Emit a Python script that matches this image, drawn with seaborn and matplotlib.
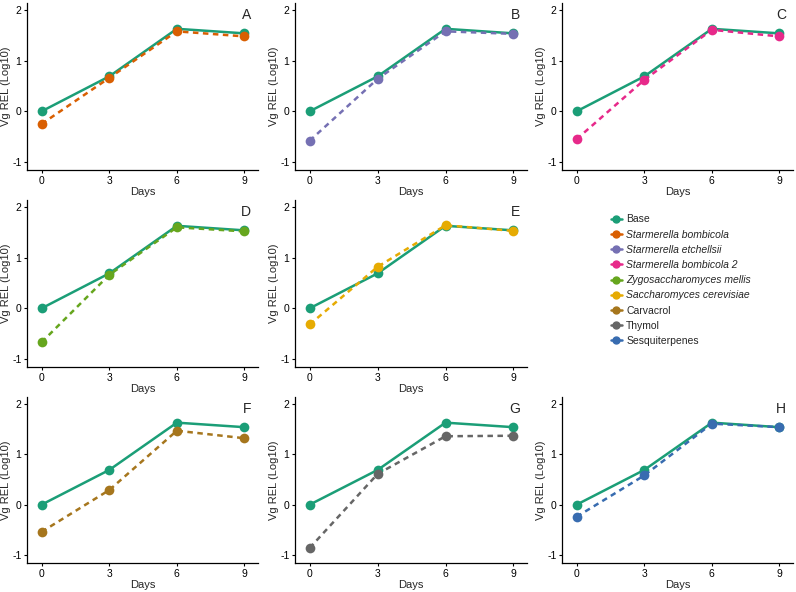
import matplotlib
matplotlib.use("Agg")
import matplotlib.pyplot as plt
from matplotlib.lines import Line2D
import seaborn as sns
import pandas as pd

sns.set_theme(style="ticks")
plt.rcParams['font.family'] = ['Liberation Sans', 'DejaVu Sans']
plt.rcParams['axes.unicode_minus'] = False

days = [0, 3, 6, 9]
base = [0.0, 0.69, 1.63, 1.54]

panel_letters = ["A", "B", "C", "D", "E", "F", "G", "H"]
treatments = ["Starmerella bombicola", "Starmerella etchellsii", "Starmerella bombicola 2",
              "Zygosaccharomyces mellis", "Saccharomyces cerevisiae", "Carvacrol", "Thymol",
              "Sesquiterpenes"]
italic = [True, True, True, True, True, False, False, False]

s_bombicola = [-0.25, 0.66, 1.58, 1.48]
s_etchellsii = [-0.58, 0.64, 1.58, 1.53]
s_bombicola2 = [-0.55, 0.62, 1.61, 1.48]
z_mellis = [-0.67, 0.66, 1.60, 1.52]
s_cerevisiae = [-0.32, 0.82, 1.64, 1.53]
carvacrol = [-0.54, 0.29, 1.47, 1.32]
thymol = [-0.86, 0.61, 1.36, 1.37]
sesquiterpenes = [-0.24, 0.58, 1.61, 1.54]
series = [s_bombicola, s_etchellsii, s_bombicola2, z_mellis, s_cerevisiae, carvacrol, thymol, sesquiterpenes]

base_color = "#1B9E77"
colors = ["#D95F02", "#7570B3", "#E7298A", "#66A61E", "#E6AB02", "#A6761D", "#666666", "#386CB0"]

W, H = 796, 592
fig = plt.figure(figsize=(W / 100, H / 100), dpi=100)

cols = [(27, 258), (295, 527), (562, 793)]
rows = [(3, 170), (200, 367), (397, 563)]
slots = [(0, 0), (0, 1), (0, 2), (1, 0), (1, 1), (2, 0), (2, 1), (2, 2)]

for i, (r, c) in enumerate(slots):
    x0, x1 = cols[c]
    y0, y1 = rows[r]
    ax = fig.add_axes([x0 / W, 1 - y1 / H, (x1 - x0) / W, (y1 - y0) / H])
    df = pd.DataFrame({"Days": days * 2,
                       "val": base + series[i],
                       "group": ["Base"] * 4 + [treatments[i]] * 4})
    sns.lineplot(data=df[df.group == "Base"], x="Days", y="val", color=base_color,
                 lw=1.8, marker="o", markersize=7, markeredgewidth=0, ax=ax, legend=False)
    sns.lineplot(data=df[df.group != "Base"], x="Days", y="val", color=colors[i],
                 lw=1.8, marker="o", markersize=7, markeredgewidth=0, ax=ax, legend=False,
                 dashes=False, linestyle=(0, (2.2, 1.8)))
    ax.set_xlim(-0.65, 9.6)
    ax.set_ylim(-1.16, 2.14)
    ax.set_xticks(days)
    ax.set_yticks([-1, 0, 1, 2])
    ax.set_xlabel("Days", fontsize=8, labelpad=1)
    ax.set_ylabel("Vg REL (Log10)", fontsize=8, labelpad=1)
    ax.tick_params(labelsize=7.5, length=2.5, width=0.8, pad=1.5, colors="black")
    for sp in ["left", "bottom"]:
        ax.spines[sp].set_linewidth(0.9)
        ax.spines[sp].set_color("black")
    sns.despine(ax=ax)
    ax.text(0.97, 0.97, panel_letters[i], transform=ax.transAxes, ha="right", va="top", fontsize=10)

# legend panel
lax = fig.add_axes([562 / W, 1 - 367 / H, (793 - 562) / W, (367 - 200) / H])
lax.axis("off")
handles = [Line2D([0], [0], color=base_color, lw=1.8, marker="o", markersize=5)]
labels = ["Base"]
for t, col in zip(treatments, colors):
    handles.append(Line2D([0], [0], color=col, lw=1.8, marker="o", markersize=5))
    labels.append(t)
leg = lax.legend(handles, labels, loc="upper left", bbox_to_anchor=(0.17, 0.97), frameon=False,
                 fontsize=7.5, handlelength=1.1, labelspacing=0.5, handletextpad=0.4)
for txt, it in zip(leg.get_texts(), [False] + italic):
    if it:
        txt.set_style("italic")

fig.savefig("out.png", dpi=100)
